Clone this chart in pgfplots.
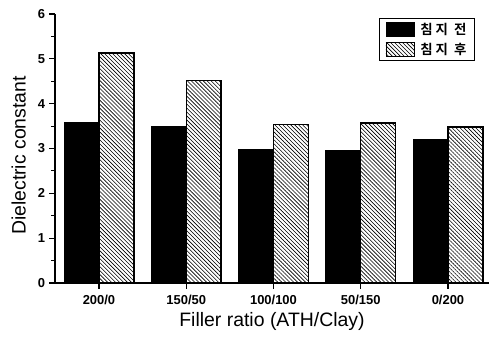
\documentclass[border=0pt]{standalone}
\usepackage{pgfplots}
\pgfplotsset{compat=1.18}
\usepackage{fontspec}
\setmainfont{Liberation Sans}
\newfontfamily\kr{Noto Sans CJK KR}[BoldFont={* Bold}]
\usetikzlibrary{patterns.meta}
\begin{document}
\begin{tikzpicture}
\begin{axis}[
  name=ax,
  scale only axis,
  width=434bp, height=269bp,
  xmin=-0.504, xmax=4.47,
  ymin=0, ymax=6,
  axis x line=bottom, axis y line=left,
  axis line style={-, line width=1.1bp},
  xtick={0,1,2,3,4},
  xticklabels={200/0,150/50,100/100,50/150,0/200},
  ytick={0,1,2,3,4,5,6},
  minor y tick num=1,
  tick align=outside,
  major tick length=5.5bp, minor tick length=3.5bp,
  tick style={line width=1.1bp, black},
  ticklabel style={font=\fontsize{13}{14}\selectfont\bfseries},
  xticklabel style={yshift=-3bp},
  yticklabel style={xshift=-1bp},
  /pgf/number format/assume math mode=true,
  xlabel={Filler ratio (ATH/Clay)},
  ylabel={Dielectric constant},
  label style={font=\fontsize{19.5}{22}\selectfont},
  xlabel style={yshift=-1bp},
  ylabel style={yshift=5bp, xshift=-7bp},
  ybar=0pt, bar width=0.4,
  legend style={at={(0.7465,0.985)}, anchor=north west, draw=black, line width=1.1bp,
    font=\kr\bfseries\fontsize{13.5}{15}\selectfont, inner xsep=6bp, inner ysep=2.5bp,
    row sep=3.5bp, cells={anchor=west}},
  legend image code/.code={\draw[#1, line width=0.8bp] (0bp,-7bp) rectangle (28bp,7bp);},
]
\addplot[fill=black, draw=black, line width=1bp] coordinates {(0,3.57) (1,3.48) (2,2.97) (3,2.95) (4,3.21)};
\addplot[pattern={Lines[angle=-45, distance=2.8bp, line width=0.6bp]}, draw=black, line width=1.3bp] coordinates {(0,5.13) (1,4.51) (2,3.53) (3,3.57) (4,3.48)};
\legend{\hspace{4bp}침\hspace{3bp}지\hspace{6bp}전, \hspace{4bp}침\hspace{3bp}지\hspace{6bp}후}
\end{axis}
\pgfresetboundingbox
\path ([xshift=-55bp,yshift=-54bp]ax.south west) rectangle ([yshift=14bp]ax.north east);
\end{tikzpicture}
\end{document}
